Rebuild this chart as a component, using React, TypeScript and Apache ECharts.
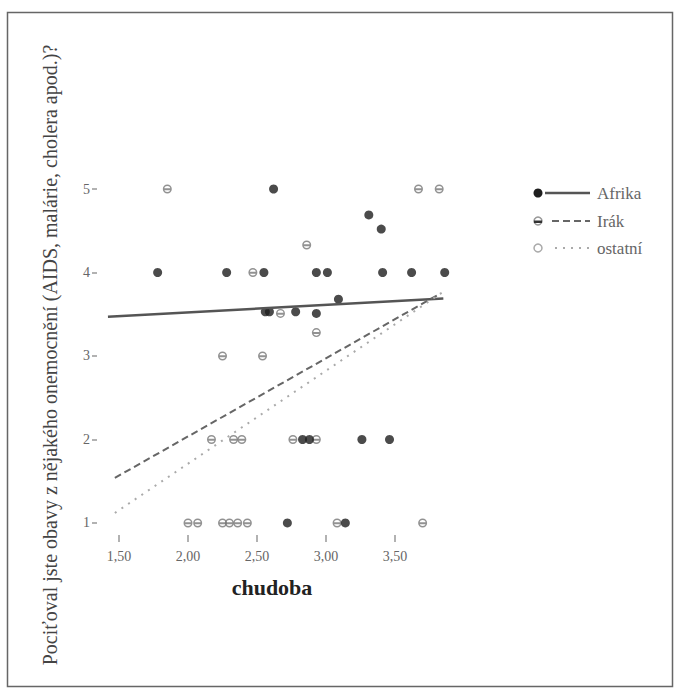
import React, { useEffect, useRef } from "react";
import * as echarts from "echarts";

const seriesNames = ["Afrika", "Irák", "ostatní"];
const xTicks = [1.5, 2, 2.5, 3, 3.5];
const yTicks = [1, 2, 3, 4, 5];
const xTitle = "chudoba";
const yTitle = "Pociťoval jste obavy z nějakého onemocnění (AIDS, malárie, cholera apod.)?";

const afrikaX = [2.62, 3.31, 3.40, 1.78, 2.28, 2.55, 2.93, 3.01, 3.41, 3.62, 3.86, 2.56, 2.59, 2.78, 2.93, 3.09, 2.83, 2.88, 3.26, 3.46, 2.72, 3.14];
const afrikaY = [5, 4.69, 4.52, 4, 4, 4, 4, 4, 4, 4, 4, 3.53, 3.53, 3.53, 3.51, 3.68, 2, 2, 2, 2, 1, 1];

const irakX = [1.85, 3.67, 3.82, 2.86, 2.47, 2.67, 2.93, 2.25, 2.54, 2.17, 2.33, 2.39, 2.76, 2.93, 2.0, 2.07, 2.25, 2.30, 2.36, 2.43, 3.08, 3.70];
const irakY = [5, 5, 5, 4.33, 4, 3.51, 3.28, 3, 3, 2, 2, 2, 2, 2, 1, 1, 1, 1, 1, 1, 1, 1];

const ostatniX = [3.55, 2.70, 3.16, 2.43, 2.50, 1.59, 2.54, 2.61, 3.01, 3.17, 1.43, 1.63, 1.67, 1.75, 1.78, 1.85];
const ostatniY = [5, 4, 4, 3.51, 3.51, 2, 2, 2, 2, 2, 1, 1, 1, 1, 1.34, 1.54];

const afrikaFitX = [1.42, 3.85];
const afrikaFitY = [3.47, 3.69];
const irakFitX = [1.47, 3.83];
const irakFitY = [1.54, 3.75];
const ostatniFitX = [1.47, 3.85];
const ostatniFitY = [1.12, 3.77];

const pairs = (xs: number[], ys: number[]) => xs.map((x, i) => [x, ys[i]]);

const FONT = "'Liberation Serif', 'DejaVu Serif', serif";
const IRAK_SYMBOL =
  "path://M5,0A5,5 0 1,1 5,10A5,5 0 1,1 5,0Z M5,1.6A3.4,3.4 0 1,0 5,8.4A3.4,3.4 0 1,0 5,1.6Z M1,4.2H9V6.4H1Z";

export default function App() {
  const ref = useRef<HTMLDivElement>(null);

  useEffect(() => {
    if (!ref.current) return;
    const chart = echarts.init(ref.current, null, { renderer: "svg" });

    const legendRows = [
      { y: 193, name: seriesNames[0] },
      { y: 221, name: seriesNames[1] },
      { y: 248, name: seriesNames[2] },
    ];

    const option: any = {
      animation: false,
      backgroundColor: "#ffffff",
      grid: { left: 97, right: 223, top: 181, bottom: 158, containLabel: false },
      xAxis: {
        type: "value",
        min: 1.3406,
        max: 3.949,
        splitLine: { show: false },
        axisLine: { show: false },
        axisTick: {
          show: true,
          length: 7,
          customValues: xTicks,
          lineStyle: { color: "#999", width: 1.5 },
        },
        axisLabel: {
          customValues: xTicks,
          margin: 14,
          color: "#666",
          fontFamily: FONT,
          fontSize: 14,
          formatter: (v: number) => v.toFixed(2).replace(".", ","),
        },
      },
      yAxis: {
        type: "value",
        min: 0.856,
        max: 5.096,
        splitLine: { show: false },
        axisLine: { show: false },
        axisTick: {
          show: true,
          length: 5,
          customValues: yTicks,
          lineStyle: { color: "#999", width: 1.5 },
        },
        axisLabel: {
          customValues: yTicks,
          margin: 7,
          color: "#666",
          fontFamily: FONT,
          fontSize: 14,
        },
      },
      series: [
        {
          name: seriesNames[2],
          type: "scatter",
          symbol: "emptyCircle",
          symbolSize: 8,
          itemStyle: { color: "#fff", borderColor: "#aaa", borderWidth: 1.5 },
          data: pairs(ostatniX, ostatniY),
          z: 2,
        },
        {
          name: seriesNames[1],
          type: "scatter",
          symbol: IRAK_SYMBOL,
          symbolSize: 9,
          itemStyle: { color: "#777" },
          data: pairs(irakX, irakY),
          z: 3,
        },
        {
          name: seriesNames[0],
          type: "scatter",
          symbol: "circle",
          symbolSize: 9,
          itemStyle: { color: "#1e1e1e" },
          data: pairs(afrikaX, afrikaY),
          z: 4,
        },
        {
          name: seriesNames[0] + " fit",
          type: "line",
          symbol: "none",
          lineStyle: { color: "#555", width: 2.5, type: "solid" },
          data: pairs(afrikaFitX, afrikaFitY),
          z: 5,
        },
        {
          name: seriesNames[1] + " fit",
          type: "line",
          symbol: "none",
          lineStyle: { color: "#666", width: 2, type: [7, 4] },
          data: pairs(irakFitX, irakFitY),
          z: 5,
        },
        {
          name: seriesNames[2] + " fit",
          type: "line",
          symbol: "none",
          lineStyle: { color: "#aaa", width: 2, type: [2, 6] },
          data: pairs(ostatniFitX, ostatniFitY),
          z: 5,
        },
      ],
      graphic: [
        {
          type: "rect",
          shape: { x: 7.5, y: 12.5, width: 665, height: 674 },
          style: { fill: "none", stroke: "#666", lineWidth: 1.5 },
          silent: true,
        },
        {
          type: "text",
          x: 50,
          y: 355,
          rotation: Math.PI / 2,
          style: {
            text: yTitle,
            fontFamily: FONT,
            fontSize: 20,
            fill: "#444",
            align: "center",
            verticalAlign: "middle",
          },
        },
        {
          type: "text",
          x: 272,
          y: 587,
          style: {
            text: xTitle,
            fontFamily: FONT,
            fontSize: 22,
            fontWeight: "bold",
            fill: "#222",
            align: "center",
            verticalAlign: "middle",
          },
        },
        // legend row 1: Afrika
        { type: "line", shape: { x1: 545, y1: legendRows[0].y, x2: 590, y2: legendRows[0].y }, style: { stroke: "#555", lineWidth: 2.5 } },
        { type: "circle", shape: { cx: 538, cy: legendRows[0].y, r: 4.5 }, style: { fill: "#1e1e1e" } },
        // legend row 2: Irák
        { type: "line", shape: { x1: 552, y1: legendRows[1].y, x2: 590, y2: legendRows[1].y }, style: { stroke: "#666", lineWidth: 2, lineDash: [7, 4] } },
        { type: "circle", shape: { cx: 538, cy: legendRows[1].y, r: 4 }, style: { fill: "none", stroke: "#999", lineWidth: 1.5 } },
        { type: "rect", shape: { x: 534, y: legendRows[1].y - 0.5, width: 8, height: 2.5 }, style: { fill: "#333" } },
        // legend row 3: ostatní
        { type: "line", shape: { x1: 555, y1: legendRows[2].y, x2: 590, y2: legendRows[2].y }, style: { stroke: "#aaa", lineWidth: 2, lineDash: [2, 6] } },
        { type: "circle", shape: { cx: 538, cy: legendRows[2].y, r: 4 }, style: { fill: "#fff", stroke: "#aaa", lineWidth: 1.5 } },
        ...legendRows.map((r) => ({
          type: "text",
          x: 597,
          y: r.y,
          style: {
            text: r.name,
            fontFamily: FONT,
            fontSize: 17,
            fill: "#666",
            align: "left",
            verticalAlign: "middle",
          },
        })),
      ],
    };

    chart.setOption(option);
    return () => chart.dispose();
  }, []);

  return (
    <div
      ref={ref}
      style={{ position: "absolute", left: 0, top: 0, width: 680, height: 693 }}
    />
  );
}
